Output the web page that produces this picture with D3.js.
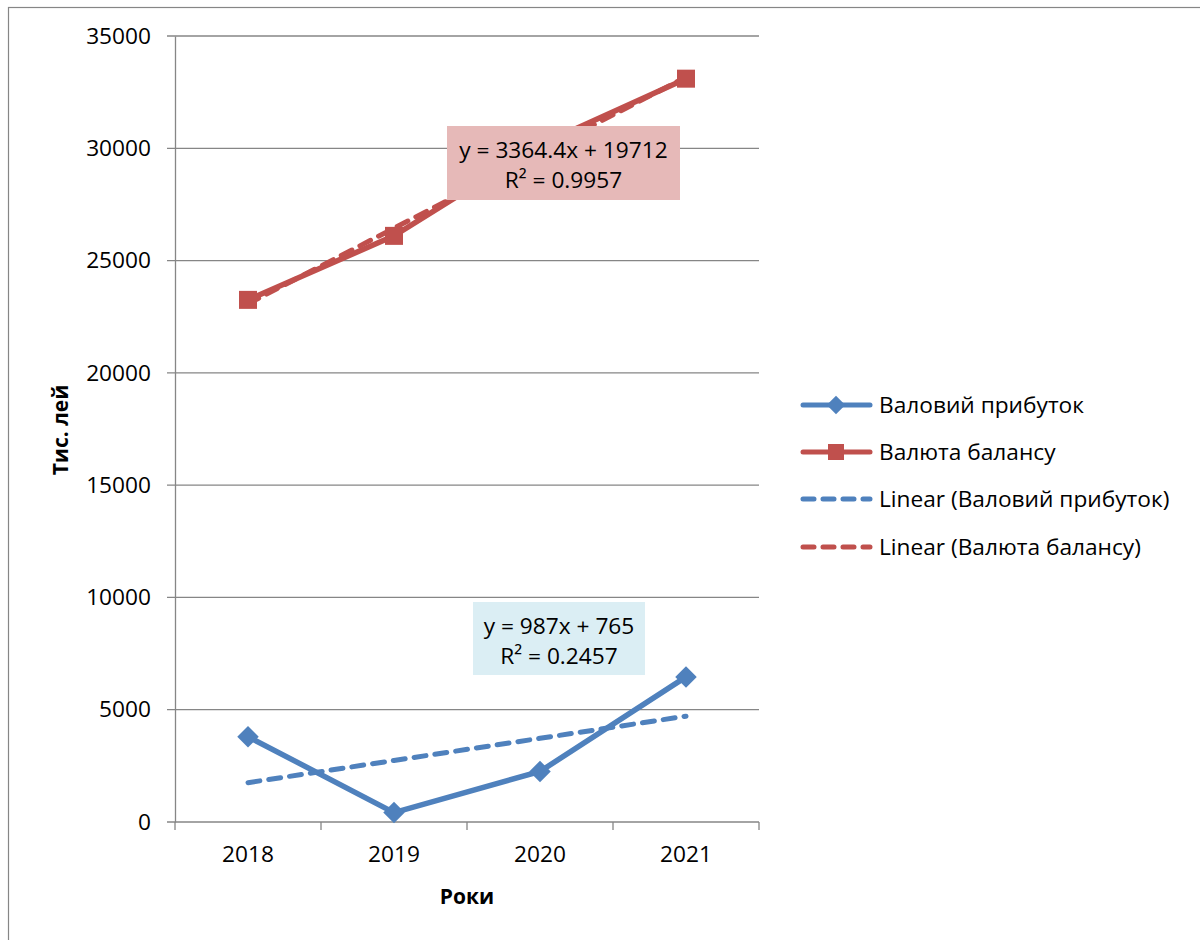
<!DOCTYPE html>
<html>
<head>
<meta charset="utf-8">
<script src="https://cdn.jsdelivr.net/npm/d3@7"></script>
<style>
  body { margin: 0; background: #fff; }
  text { font-family: "Open Sans", "Noto Sans", sans-serif; }
</style>
</head>
<body>
<svg width="1200" height="940"></svg>
<script>
// data
var years = ["2018", "2019", "2020", "2021"];
var grossProfit = [3800, 420, 2250, 6460];
var balanceTotal = [23250, 26100, 30150, 33100];
var yTicks = [0, 5000, 10000, 15000, 20000, 25000, 30000, 35000];
var seriesNames = ["Валовий прибуток", "Валюта балансу", "Linear (Валовий прибуток)", "Linear (Валюта балансу)"];
var trendBlue = { slope: 987, intercept: 765, label: "y = 987x + 765", r2: "R² = 0.2457" };
var trendRed = { slope: 3364.4, intercept: 19712, label: "y = 3364.4x + 19712", r2: "R² = 0.9957" };

var blue = "#4F81BD", red = "#C0504D";
var fs = 22.7;
var plotLeft = 175, plotRight = 759, plotTop = 36, plotBottom = 822;

var svg = d3.select("svg");

// outer frame
svg.append("rect")
   .attr("x", 8.5).attr("y", 7.5)
   .attr("width", 1200).attr("height", 940)
   .attr("fill", "none").attr("stroke", "#868686").attr("stroke-width", 1.2);

var x = d3.scaleBand().domain(years).range([plotLeft, plotRight]);
var y = d3.scaleLinear().domain([0, 35000]).range([plotBottom, plotTop]);
var cx = function(i) { return x(years[i]) + x.bandwidth() / 2; };

// gridlines
svg.selectAll("line.grid")
   .data(yTicks)
   .enter()
   .append("line")
   .attr("x1", plotLeft - 8).attr("x2", plotRight)
   .attr("y1", function(d) { return y(d); })
   .attr("y2", function(d) { return y(d); })
   .attr("stroke", "#868686").attr("stroke-width", 1.3);

// y axis
var yAxis = svg.append("g")
   .attr("transform", "translate(" + plotLeft + ",0)")
   .call(d3.axisLeft(y).tickValues(yTicks).tickSize(0).tickPadding(24).tickFormat(d3.format("d")));
yAxis.select(".domain").attr("stroke", "#868686").attr("stroke-width", 1.3);
yAxis.selectAll("text").attr("font-size", fs).attr("fill", "#000").attr("font-family", null);

// x axis
var xAxis = svg.append("g")
   .attr("transform", "translate(0," + plotBottom + ")")
   .call(d3.axisBottom(x).tickSize(0).tickPadding(24));
xAxis.select(".domain").remove();
xAxis.selectAll("text").attr("font-size", fs).attr("fill", "#000").attr("font-family", null);
svg.selectAll("line.xtick")
   .data(d3.range(years.length + 1))
   .enter()
   .append("line")
   .attr("x1", function(i) { return plotLeft + i * x.bandwidth(); })
   .attr("x2", function(i) { return plotLeft + i * x.bandwidth(); })
   .attr("y1", plotBottom).attr("y2", plotBottom + 8)
   .attr("stroke", "#868686").attr("stroke-width", 1.3);

// axis titles
svg.append("text")
   .attr("transform", "translate(68,430) rotate(-90)")
   .attr("text-anchor", "middle")
   .attr("font-size", 21).attr("font-weight", "bold")
   .text("Тис. лей");
svg.append("text")
   .attr("x", 467).attr("y", 904)
   .attr("text-anchor", "middle")
   .attr("font-size", 21).attr("font-weight", "bold")
   .text("Роки");

var line = d3.line()
   .x(function(d, i) { return cx(i); })
   .y(function(d) { return y(d); });

function trendVals(t) {
   return years.map(function(d, i) { return t.slope * (i + 1) + t.intercept; });
}

// series lines
svg.append("path").datum(grossProfit).attr("d", line)
   .attr("fill", "none").attr("stroke", blue).attr("stroke-width", 5.5);
svg.append("path").datum(balanceTotal).attr("d", line)
   .attr("fill", "none").attr("stroke", red).attr("stroke-width", 5.5);

// trend lines
svg.append("path").datum(trendVals(trendBlue)).attr("d", line)
   .attr("fill", "none").attr("stroke", blue).attr("stroke-width", 5)
   .attr("stroke-dasharray", "12,9").attr("stroke-linecap", "round");
svg.append("path").datum(trendVals(trendRed)).attr("d", line)
   .attr("fill", "none").attr("stroke", red).attr("stroke-width", 5)
   .attr("stroke-dasharray", "12,9").attr("stroke-linecap", "round");

// markers
svg.selectAll("path.diamond")
   .data(grossProfit)
   .enter()
   .append("path")
   .attr("d", d3.symbol().type(d3.symbolSquare).size(230))
   .attr("transform", function(d, i) { return "translate(" + cx(i) + "," + y(d) + ") rotate(45)"; })
   .attr("fill", blue);
svg.selectAll("rect.square")
   .data(balanceTotal)
   .enter()
   .append("rect")
   .attr("x", function(d, i) { return cx(i) - 9; })
   .attr("y", function(d) { return y(d) - 9; })
   .attr("width", 18).attr("height", 18)
   .attr("fill", red);

// trend labels
function trendLabel(t, bx, by, bw, bh, fill) {
   svg.append("rect")
      .attr("x", bx).attr("y", by).attr("width", bw).attr("height", bh)
      .attr("fill", fill);
   svg.append("text")
      .attr("x", bx + bw / 2).attr("y", by + 32)
      .attr("text-anchor", "middle").attr("font-size", fs)
      .text(t.label);
   svg.append("text")
      .attr("x", bx + bw / 2).attr("y", by + 62)
      .attr("text-anchor", "middle").attr("font-size", fs)
      .text(t.r2);
}
trendLabel(trendRed, 447, 126, 233, 74, "#E6B9B8");
trendLabel(trendBlue, 473, 602, 172, 73, "#DBEEF4");

// legend
var legendY = [405, 452, 499, 547];
var legend = svg.selectAll("g.legend")
   .data(seriesNames)
   .enter()
   .append("g")
   .attr("transform", function(d, i) { return "translate(0," + legendY[i] + ")"; });
legend.append("line")
   .attr("x1", 803).attr("x2", 870)
   .attr("stroke", function(d, i) { return i % 2 === 0 ? blue : red; })
   .attr("stroke-width", 5)
   .attr("stroke-linecap", "round")
   .attr("stroke-dasharray", function(d, i) { return i >= 2 ? "11,9" : null; });
legend.filter(function(d, i) { return i === 0; })
   .append("path")
   .attr("d", d3.symbol().type(d3.symbolSquare).size(170))
   .attr("transform", "translate(836,0) rotate(45)")
   .attr("fill", blue);
legend.filter(function(d, i) { return i === 1; })
   .append("rect")
   .attr("x", 828).attr("y", -8).attr("width", 16).attr("height", 16)
   .attr("fill", red);
legend.append("text")
   .attr("x", 879).attr("y", 8)
   .attr("font-size", fs)
   .text(function(d) { return d; });
</script>
</body>
</html>
